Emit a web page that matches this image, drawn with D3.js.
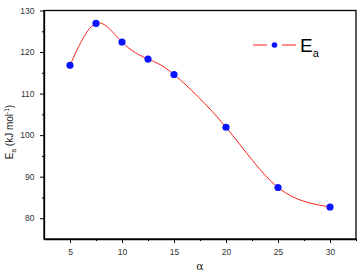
<!DOCTYPE html>
<html>
<head>
<meta charset="utf-8">
<script src="https://cdn.jsdelivr.net/npm/d3@7"></script>
<style>
  body { margin: 0; background: #fff; }
  svg { display: block; font-family: "Liberation Sans", Arial, sans-serif; }
</style>
</head>
<body>
<div id="chart"></div>
<script>
const alpha = [5, 7.5, 10, 12.5, 15, 20, 25, 30];
const ea = [116.8, 126.9, 122.4, 118.3, 114.6, 101.9, 87.4, 82.7];
const xTicks = [5, 10, 15, 20, 25, 30];
const yTicks = [80, 90, 100, 110, 120, 130];

const w = 362;
const h = 276;
const margin = { top: 10.5, right: 6, bottom: 37, left: 44 };

const x = d3.scaleLinear().domain([2.5, 32.5]).range([margin.left, w - margin.right]);
const y = d3.scaleLinear().domain([75, 130]).range([h - margin.bottom, margin.top]);

const svg = d3.select("#chart").append("svg")
  .attr("width", w)
  .attr("height", h);

// frame
svg.append("rect")
  .attr("x", x(2.5)).attr("y", y(130))
  .attr("width", x(32.5) - x(2.5)).attr("height", y(75) - y(130))
  .attr("fill", "none").attr("stroke", "#000").attr("stroke-width", 1.3);

// x axis: major + minor ticks
const xAxis = svg.append("g").attr("transform", `translate(0,${y(75)})`);
xAxis.call(d3.axisBottom(x).tickValues(xTicks).tickSize(4).tickSizeOuter(0).tickFormat(d3.format("d")));
xAxis.append("g").call(d3.axisBottom(x).tickValues([7.5, 12.5, 17.5, 22.5, 27.5, 32.5]).tickSize(2).tickFormat(""))
  .select(".domain").remove();

// y axis
const yAxis = svg.append("g").attr("transform", `translate(${x(2.5)},0)`);
yAxis.call(d3.axisLeft(y).tickValues(yTicks).tickSize(4).tickSizeOuter(0).tickFormat(d3.format("d")));
yAxis.append("g").call(d3.axisLeft(y).tickValues([85, 95, 105, 115, 125]).tickSize(2).tickFormat(""))
  .select(".domain").remove();

svg.selectAll(".domain").attr("stroke", "#000").attr("stroke-width", 1.3);
svg.selectAll(".tick line").attr("stroke", "#000");
svg.selectAll(".tick text")
  .attr("font-size", 8.5)
  .attr("fill", "#333")
  .attr("font-family", "Liberation Sans, Arial, sans-serif");
xAxis.selectAll(".tick text").attr("dy", "1.05em");
yAxis.selectAll(".tick text").attr("dx", "-0.3em");

// curve
const pts = alpha.map((a, i) => [a, ea[i]]);
const line = d3.line()
  .x(d => x(d[0]))
  .y(d => y(d[1]))
  .curve(d3.curveNatural);

svg.append("path")
  .datum(pts)
  .attr("d", line)
  .attr("fill", "none")
  .attr("stroke", "#ff2020")
  .attr("stroke-width", 1);

svg.selectAll(".pt")
  .data(pts)
  .enter()
  .append("circle")
  .attr("class", "pt")
  .attr("cx", d => x(d[0]))
  .attr("cy", d => y(d[1]))
  .attr("r", 3.6)
  .attr("fill", "#0a14ff");

// legend
const lg = svg.append("g");
lg.append("line").attr("x1", 253).attr("x2", 267).attr("y1", 45).attr("y2", 45)
  .attr("stroke", "#ff2020").attr("stroke-width", 1);
lg.append("line").attr("x1", 282).attr("x2", 296).attr("y1", 45).attr("y2", 45)
  .attr("stroke", "#ff2020").attr("stroke-width", 1);
lg.append("circle").attr("cx", 274.5).attr("cy", 45).attr("r", 2.8).attr("fill", "#0a14ff");
const lt = lg.append("text").attr("x", 300).attr("y", 52).attr("font-size", 19).attr("fill", "#000");
lt.append("tspan").text("E");
lt.append("tspan").attr("font-size", 11).attr("dy", 5).text("a");

// axis titles
svg.append("text")
  .attr("x", x(17.5)).attr("y", 270)
  .attr("text-anchor", "middle")
  .attr("font-size", 11)
  .attr("font-family", "DejaVu Serif, serif")
  .attr("fill", "#222")
  .text("α");

const yl = svg.append("text")
  .attr("transform", `translate(13,132) rotate(-90)`)
  .attr("text-anchor", "middle")
  .attr("font-size", 10)
  .attr("fill", "#222");
yl.append("tspan").text("E");
yl.append("tspan").attr("font-size", 6.5).attr("dy", 3).text("a");
yl.append("tspan").attr("dy", -3).text(" (kJ mol");
yl.append("tspan").attr("font-size", 6.5).attr("dy", -4).text("-1");
yl.append("tspan").attr("dy", 4).text(")");
</script>
</body>
</html>
